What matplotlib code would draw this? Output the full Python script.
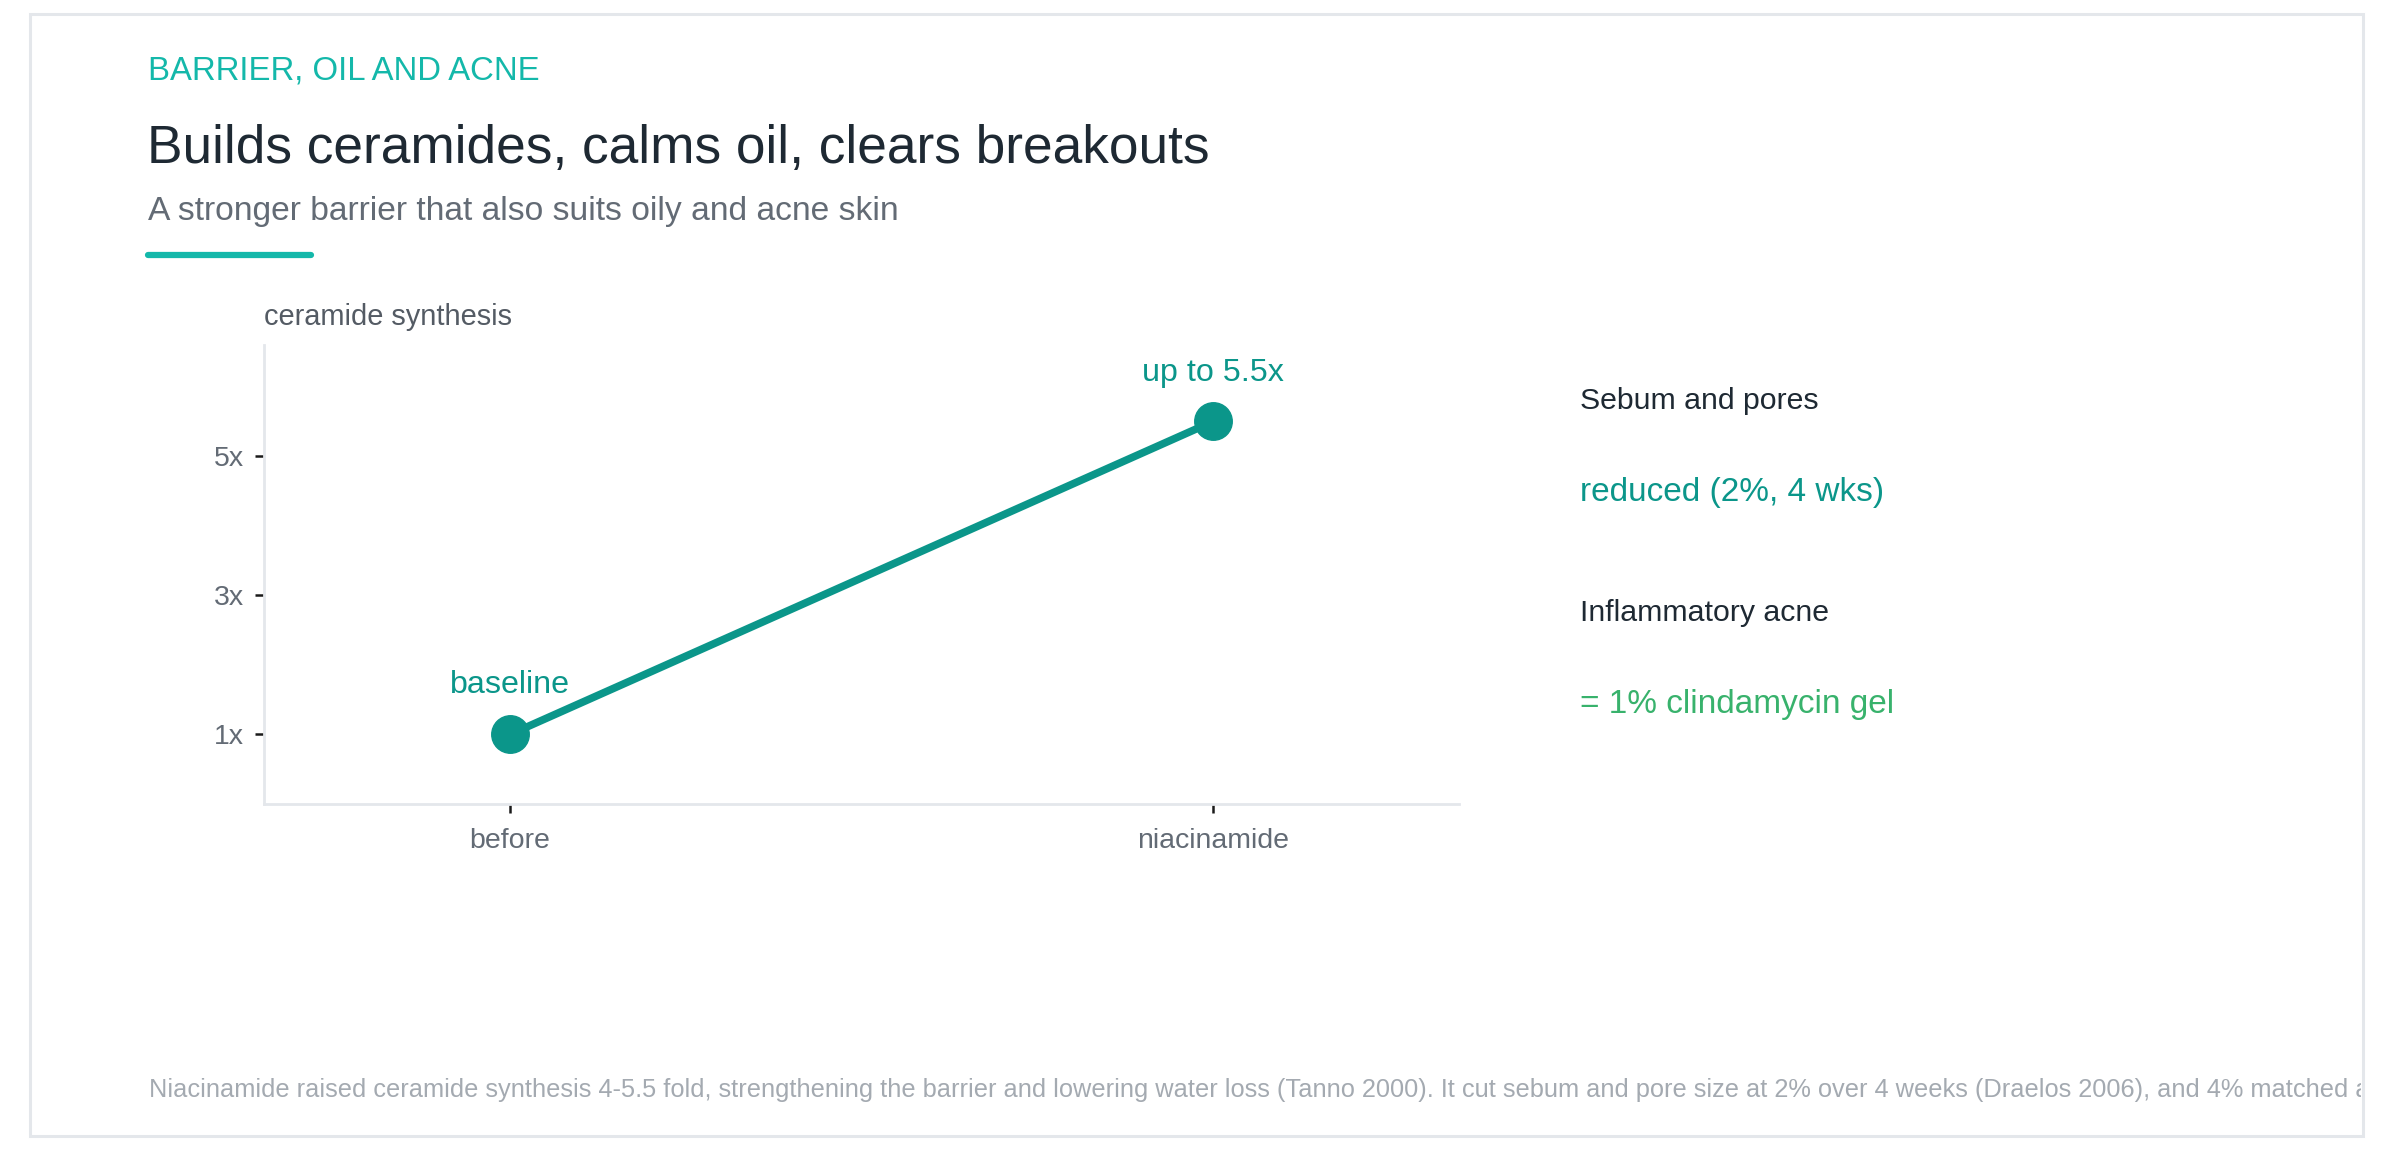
import matplotlib
matplotlib.use("Agg")
import matplotlib.pyplot as plt
from matplotlib.patches import Rectangle
from matplotlib.lines import Line2D
from matplotlib.transforms import Bbox, TransformedBbox

# ============================
# Data
# ============================
stages = ["before", "niacinamide"]
fold_change = [1.0, 5.5]
point_labels = ["baseline", "up to 5.5x"]
y_ticks = [1, 3, 5]
y_tick_labels = ["1x", "3x", "5x"]

side_headings = ["Sebum and pores", "Inflammatory acne"]
side_values = ["reduced (2%, 4 wks)", "= 1% clindamycin gel"]

eyebrow = "BARRIER, OIL AND ACNE"
title = "Builds ceramides, calms oil, clears breakouts"
subtitle = "A stronger barrier that also suits oily and acne skin"
y_label = "ceramide synthesis"
footnote = ("Niacinamide raised ceramide synthesis 4-5.5 fold, strengthening the barrier "
            "and lowering water loss (Tanno 2000). It cut sebum and pore size at 2% over "
            "4 weeks (Draelos 2006), and 4% matched a 1% clindamycin gel on inflammatory acne.")

# ============================
# Style
# ============================
TEAL = "#0b968a"
TEAL_LIGHT = "#14b8aa"
GREEN = "#38b26c"
DARK = "#1e2933"
GRAY = "#636b75"
LIGHT_GRAY = "#a4aab1"
BORDER = "#e4e7eb"

plt.rcParams["font.family"] = ["Liberation Sans", "DejaVu Sans"]

W, H = 2392, 1150
fig = plt.figure(figsize=(W / 100, H / 100), dpi=100)
fig.patch.set_facecolor("white")


def fx(px):
    return px / W


def fy(py):
    return 1 - py / H


# card border
card = Rectangle((fx(30), fy(1136)), fx(2363) - fx(30), fy(14) - fy(1136),
                 transform=fig.transFigure, fill=False, edgecolor=BORDER, linewidth=2.2)
fig.patches.append(card)

# header
fig.text(fx(148), fy(80), eyebrow, color=TEAL_LIGHT, fontsize=23.7, va="baseline")
fig.text(fx(147), fy(163), title, color=DARK, fontsize=38.3, va="baseline")
fig.text(fx(148), fy(220), subtitle, color=GRAY, fontsize=24.2, va="baseline")
fig.lines.append(Line2D([fx(148), fx(311)], [fy(255), fy(255)], transform=fig.transFigure,
                        color=TEAL_LIGHT, linewidth=4.5, solid_capstyle="round"))

# ============================
# Chart
# ============================
ax = fig.add_axes([fx(264), fy(804), fx(1459) - fx(264), fy(345) - fy(804)])
x = list(range(len(stages)))
ax.plot(x, fold_change, color=TEAL, linewidth=5.5, marker="o", markersize=27,
        solid_capstyle="round", zorder=3)
for xi, yi, lab in zip(x, fold_change, point_labels):
    ax.annotate(lab, (xi, yi), xytext=(0, 29.5), textcoords="offset points",
                ha="center", va="baseline", color=TEAL, fontsize=23.2)

ax.set_xlim(-0.35, 1.35)
ax.set_ylim(0, 6.6)
ax.set_xticks(x)
ax.set_xticklabels(stages)
ax.set_yticks(y_ticks)
ax.set_yticklabels(y_tick_labels)
ax.tick_params(axis="both", colors="#1a1a1a", labelcolor=GRAY, labelsize=20.5,
               length=6.5, width=1.8)
ax.tick_params(axis="x", pad=11)
ax.tick_params(axis="y", pad=8)
for side in ["top", "right"]:
    ax.spines[side].set_visible(False)
for side in ["left", "bottom"]:
    ax.spines[side].set_color(BORDER)
    ax.spines[side].set_linewidth(2)

fig.text(fx(264), fy(325), y_label, color="#545b64", fontsize=20.9, va="baseline")

# ============================
# Side panel
# ============================
rows_y = [(409, 501), (621, 713)]
value_colors = [TEAL, GREEN]
for (y_head, y_val), head, val, col in zip(rows_y, side_headings, side_values, value_colors):
    fig.text(fx(1580), fy(y_head), head, color=DARK, fontsize=21.8, va="baseline")
    fig.text(fx(1580), fy(y_val), val, color=col, fontsize=24, va="baseline")

# footnote, clipped at the card edge like the reference
note = fig.text(fx(149), fy(1097), footnote, color=LIGHT_GRAY, fontsize=18.3, va="baseline")
note.set_clip_box(TransformedBbox(Bbox([[0, 0], [fx(2361), 1]]), fig.transFigure))
note.set_clip_on(True)

fig.savefig("out.png", dpi=100)
